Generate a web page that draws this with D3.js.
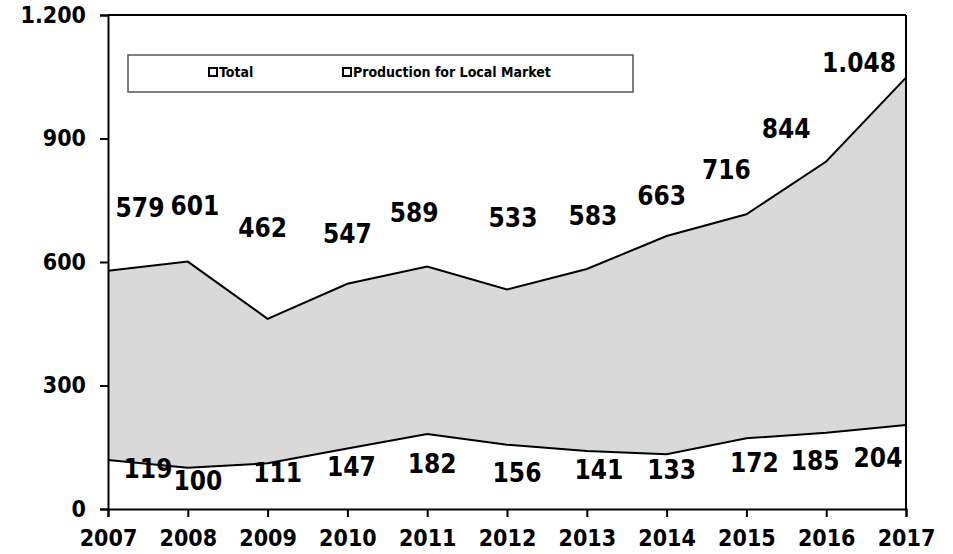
<!DOCTYPE html>
<html>
<head>
<meta charset="utf-8">
<script src="https://cdn.jsdelivr.net/npm/d3@7"></script>
<style>
  body { margin: 0; background: #fff; }
  svg text { font-family: "DejaVu Sans Condensed", "DejaVu Sans", sans-serif; font-stretch: condensed; font-weight: bold; fill: #000; }
</style>
</head>
<body>
<svg id="chart" width="953" height="554"></svg>
<script>
// data
var years = [2007, 2008, 2009, 2010, 2011, 2012, 2013, 2014, 2015, 2016, 2017];
var total = [579, 601, 462, 547, 589, 533, 583, 663, 716, 844, 1048];
var local = [119, 100, 111, 147, 182, 156, 141, 133, 172, 185, 204];
var yTicks = [0, 300, 600, 900, 1200];
var seriesNames = ["Total", "Production for Local Market"];

// hand placed label nudges (px), like the excel original
var totalDx = [32, 7, -5, 0, -13, 6, 6, -5, -20, -40, -47];
var totalDy = [-54, -47, -82, -41, -45, -63, -44, -31, -35, -24, -6];
var localDx = [40, 10, 10, 4, 5, 10, 12, 5, 8, -11, -28];
var localDy = [18, 22, 19, 28, 39, 37, 28, 25, 34, 37, 42];

var svg = d3.select("#chart"),
    margin = { top: 15, left: 108, bottom: 45, right: 47 },
    width = +svg.attr("width"),
    height = +svg.attr("height");

var x = d3.scaleLinear()
    .domain(d3.extent(years))
    .range([margin.left, width - margin.right]);

var y = d3.scaleLinear()
    .domain([0, 1200])
    .range([height - margin.bottom, margin.top]);

var fmt = d3.formatLocale({ decimal: ",", thousands: ".", grouping: [3], currency: ["", ""] }).format(",d");

var rows = years.map((yr, i) => ({ year: yr, total: total[i], local: local[i], i: i }));

// areas
var areaTotal = d3.area().x(d => x(d.year)).y0(y(0)).y1(d => y(d.total));
var areaLocal = d3.area().x(d => x(d.year)).y0(y(0)).y1(d => y(d.local));

svg.append("path").datum(rows).attr("d", areaTotal).attr("fill", "#d9d9d9");
svg.append("path").datum(rows).attr("d", areaLocal).attr("fill", "#fff");

svg.append("path").datum(rows)
    .attr("d", d3.line().x(d => x(d.year)).y(d => y(d.total)))
    .attr("fill", "none").attr("stroke", "#000").attr("stroke-width", 2);
svg.append("path").datum(rows)
    .attr("d", d3.line().x(d => x(d.year)).y(d => y(d.local)))
    .attr("fill", "none").attr("stroke", "#000").attr("stroke-width", 2);

// frame top + right
svg.append("line")
    .attr("x1", x(2007)).attr("x2", x(2017)).attr("y1", y(1200)).attr("y2", y(1200))
    .attr("stroke", "#000").attr("stroke-width", 2);
svg.append("line")
    .attr("x1", x(2017)).attr("x2", x(2017)).attr("y1", y(1200)).attr("y2", y(0))
    .attr("stroke", "#000").attr("stroke-width", 2);

// axes
var yAxis = svg.append("g")
    .attr("transform", `translate(${margin.left},0)`)
    .call(d3.axisLeft(y).tickValues(yTicks).tickFormat(fmt).tickSize(8).tickPadding(14));

var xAxis = svg.append("g")
    .attr("transform", `translate(0,${y(0)})`)
    .call(d3.axisBottom(x).tickValues(years).tickFormat(d3.format("d")).tickSize(8).tickPadding(14));

[yAxis, xAxis].forEach(function (g) {
    g.select(".domain").attr("stroke", "#000").attr("stroke-width", 2);
    g.selectAll(".tick line").attr("stroke", "#000").attr("stroke-width", 2);
    g.selectAll(".tick text").style("font-size", "23px").attr("fill", "#000");
});
xAxis.selectAll(".tick text").attr("dy", "0.66em");

// value labels
svg.selectAll(".lab-total")
    .data(rows).enter().append("text")
    .attr("class", "lab-total")
    .attr("text-anchor", "middle")
    .attr("x", d => x(d.year) + totalDx[d.i])
    .attr("y", d => y(d.total) + totalDy[d.i])
    .style("font-size", "26px")
    .text(d => fmt(d.total));

svg.selectAll(".lab-local")
    .data(rows).enter().append("text")
    .attr("class", "lab-local")
    .attr("text-anchor", "middle")
    .attr("x", d => x(d.year) + localDx[d.i])
    .attr("y", d => y(d.local) + localDy[d.i])
    .style("font-size", "26px")
    .text(d => fmt(d.local));

// legend
var legend = svg.append("g");
legend.append("rect")
    .attr("x", 128).attr("y", 55).attr("width", 505).attr("height", 37)
    .attr("fill", "#fff").attr("stroke", "#555").attr("stroke-width", 1.5);

var legendX = [208, 342];
var item = legend.selectAll(".item")
    .data(seriesNames).enter().append("g")
    .attr("transform", (d, i) => `translate(${legendX[i]},68)`);

item.append("rect")
    .attr("x", 1).attr("y", 0).attr("width", 8).attr("height", 8)
    .attr("fill", "#fff").attr("stroke", "#000").attr("stroke-width", 2);

item.append("text")
    .attr("x", 11).attr("y", 9)
    .style("font-size", "14px")
    .text(d => d);
</script>
</body>
</html>
